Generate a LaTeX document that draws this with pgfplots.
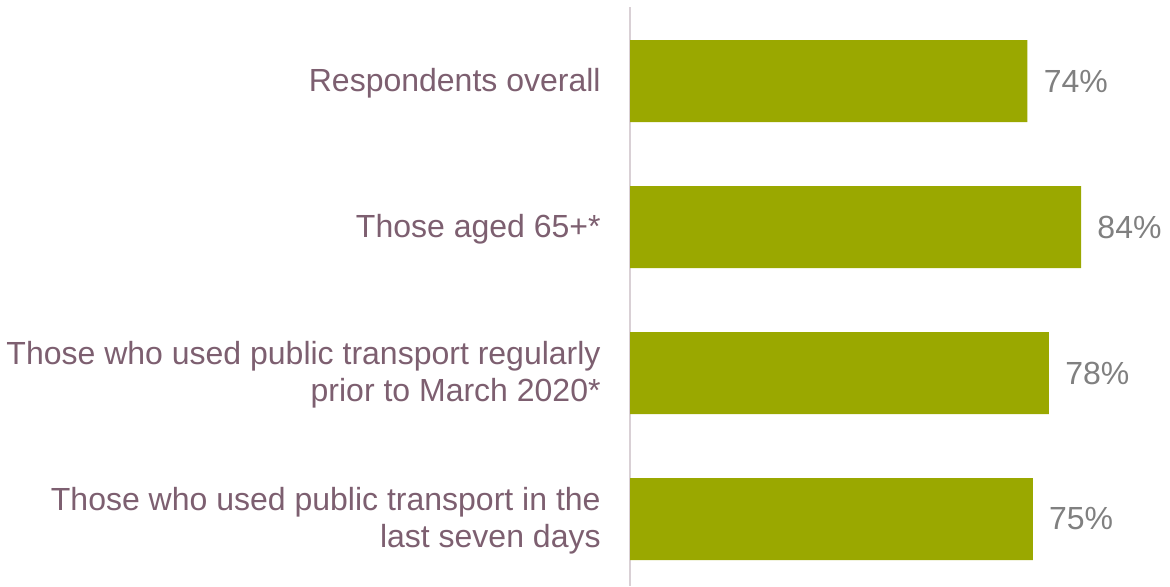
\documentclass[border=0pt]{standalone}
\usepackage{fontspec}
\setmainfont{Liberation Sans}
\usepackage{pgfplots}
\pgfplotsset{compat=1.18}
\definecolor{barc}{HTML}{9AA800}
\definecolor{labc}{HTML}{7D5F70}
\definecolor{valc}{HTML}{808080}
\definecolor{axc}{HTML}{D9D0D5}
\begin{document}
\begin{tikzpicture}
\useasboundingbox (0pt,0pt) rectangle (585pt,293pt);
\begin{axis}[
  at={(315pt,0pt)}, anchor=south west,
  scale only axis,
  width=268.5pt, height=289.5pt,
  xmin=0, xmax=100,
  ymin=-0.507, ymax=3.459,
  y dir=reverse,
  xbar, bar width=41pt,
  axis x line=none,
  axis y line*=left,
  y axis line style={draw=axc, line width=1pt},
  major tick length=0pt,
  ytick={0,1,2,3},
  yticklabels={Respondents overall, Those aged 65+*, {Those who used public transport regularly\\prior to March 2020*}, {Those who used public transport in the\\last seven days}},
  yticklabel style={align=right, font=\fontsize{16}{18.3}\selectfont, text=labc, inner sep=0pt, xshift=-14.5pt, yshift=-1pt},
  /pgf/number format/assume math mode=true,
  nodes near coords={\pgfmathprintnumber{\pgfplotspointmeta}\%},
  nodes near coords style={font=\fontsize{16}{18.3}\selectfont, text=valc, anchor=west, inner sep=0pt, xshift=8pt},
  point meta=x,
  clip=false,
]
\addplot[fill=barc, draw=none] coordinates {(74,0) (84,1) (78,2) (75,3)};
\end{axis}
\end{tikzpicture}
\end{document}
